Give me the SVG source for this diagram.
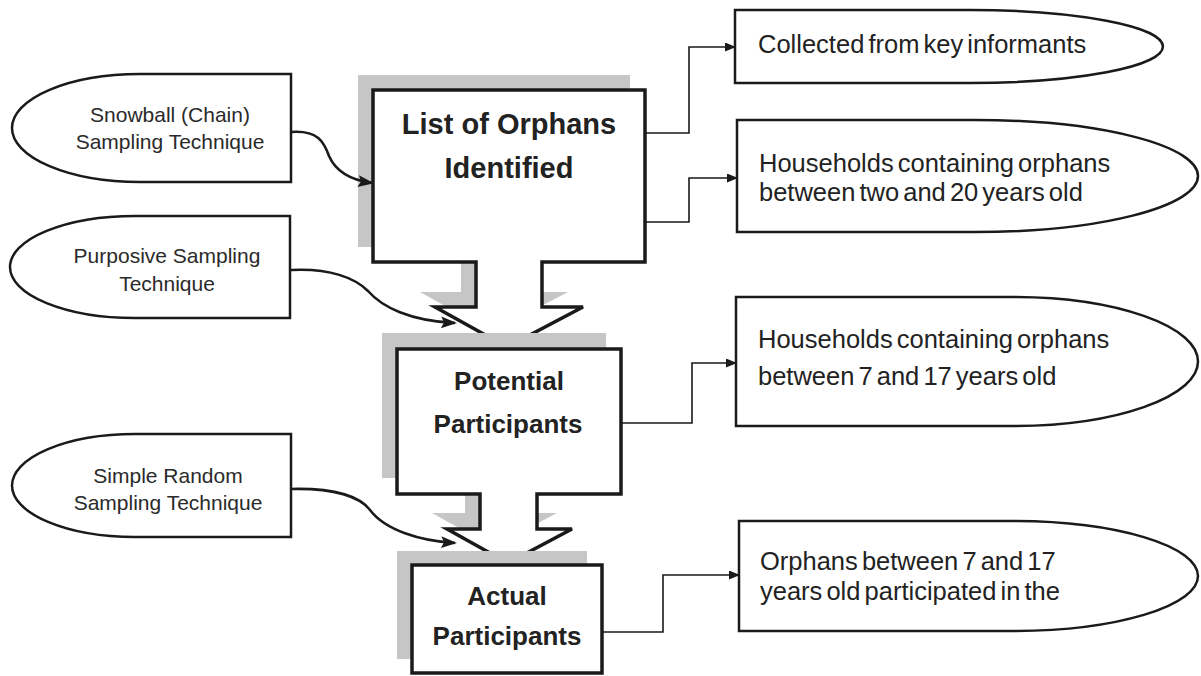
<svg xmlns="http://www.w3.org/2000/svg" width="1201" height="676" viewBox="0 0 1201 676">
<style>
.bg{fill:#ffffff}
.shape{fill:#ffffff;stroke:#1a1a1a;stroke-width:2.5;stroke-linejoin:miter}
.main{fill:#ffffff;stroke:#1a1a1a;stroke-width:3.5;stroke-linejoin:miter}
.shadow{fill:#c6c6c6;stroke:none}
.conn{fill:none;stroke:#1a1a1a;stroke-width:1.6}
.curve{fill:none;stroke:#1a1a1a;stroke-width:2.6}
.lbl{font-family:"Liberation Sans",Arial,sans-serif;font-size:21px;fill:#2a2a2a;text-anchor:middle}
.box{font-family:"Liberation Sans",Arial,sans-serif;font-size:29px;font-weight:bold;fill:#222;text-anchor:middle}
.box2{font-family:"Liberation Sans",Arial,sans-serif;font-size:26px;font-weight:bold;fill:#222;text-anchor:middle}
.rt{font-family:"Liberation Sans",Arial,sans-serif;font-size:25.5px;fill:#222;word-spacing:-3px}
</style>
<defs>
<marker id="ah" markerUnits="userSpaceOnUse" markerWidth="11" markerHeight="9" refX="10" refY="4.5" orient="auto">
<path d="M0,0 L11,4.5 L0,9 Z" fill="#1a1a1a"/>
</marker>
<marker id="ah2" markerUnits="userSpaceOnUse" markerWidth="16" markerHeight="12" refX="14" refY="6" orient="auto">
<path d="M0,0 L16,6 L0,12 L3,6 Z" fill="#1a1a1a"/>
</marker>
</defs>
<rect class="bg" x="0" y="0" width="1201" height="676"/>

<g id="snowball">
<path class="shape" d="M291,74 H140 A128,54 0 0 0 140,182 H291 Z"/>
<text class="lbl" x="170" y="122">Snowball (Chain)</text>
<text class="lbl" x="170" y="149">Sampling Technique</text>
</g>
<g id="purposive">
<path class="shape" d="M290,216 H135 A125,51 0 0 0 135,318 H290 Z"/>
<text class="lbl" x="167" y="263">Purposive Sampling</text>
<text class="lbl" x="167" y="291">Technique</text>
</g>
<g id="simple-random">
<path class="shape" d="M291,434 H135 A123,51.5 0 0 0 135,537 H291 Z"/>
<text class="lbl" x="168" y="483">Simple Random</text>
<text class="lbl" x="168" y="510">Sampling Technique</text>
</g>

<g id="list-of-orphans">
<path class="shadow" transform="translate(-15,-15)" d="M373,90 H645 V262 H542 V307 H583 L507,347 L435,307 H476 V262 H373 Z"/>
<path class="main" d="M373,90 H645 V262 H542 V307 H583 L507,347 L435,307 H476 V262 H373 Z"/>
<text class="box" x="509" y="134">List of Orphans</text>
<text class="box" x="509" y="178">Identified</text>
</g>
<g id="potential-participants">
<path class="shadow" transform="translate(-15,-16)" d="M397,349 H621 V494 H537 V529 H572 L508,563 L447,529 H480 V494 H397 Z"/>
<path class="main" d="M397,349 H621 V494 H537 V529 H572 L508,563 L447,529 H480 V494 H397 Z"/>
<text class="box2" x="509" y="390">Potential</text>
<text class="box2" x="508" y="433">Participants</text>
</g>
<g id="actual-participants">
<rect class="shadow" x="397" y="551" width="190" height="108"/>
<rect class="main" x="412" y="565" width="190" height="108"/>
<text class="box2" x="507" y="605">Actual</text>
<text class="box2" x="507" y="645">Participants</text>
</g>

<g id="collected">
<path class="shape" d="M735,10 H970 A193,36.5 0 0 1 970,83 H735 Z"/>
<text class="rt" x="758" y="53">Collected from key informants</text>
</g>
<g id="households-2-20">
<path class="shape" d="M737,120 H975 A223,56 0 0 1 975,232 H737 Z"/>
<text class="rt" x="759" y="172">Households containing orphans</text>
<text class="rt" x="759" y="201">between two and 20 years old</text>
</g>
<g id="households-7-17">
<path class="shape" d="M736,297 H1013 A185,64.5 0 0 1 1013,426 H736 Z"/>
<text class="rt" x="758" y="348">Households containing orphans</text>
<text class="rt" x="758" y="385">between 7 and 17  years old</text>
</g>
<g id="orphans-participated">
<path class="shape" d="M739,521 H1013 A185,55 0 0 1 1013,631 H739 Z"/>
<text class="rt" x="760" y="570">Orphans between 7 and 17</text>
<text class="rt" x="760" y="600">years old participated in the</text>
</g>

<g id="connectors">
<path class="curve" marker-end="url(#ah2)" d="M291,132 C318,130 324,142 329,156 C336,172 350,180 372,183"/>
<path class="curve" marker-end="url(#ah2)" d="M291,270 C330,268 355,278 368,291 C382,307 410,321 455,323"/>
<path class="curve" marker-end="url(#ah2)" d="M291,489 C335,488 360,497 370,510 C385,530 420,541 455,543"/>
<path class="conn" marker-end="url(#ah)" d="M645,133 H689 V47 H735"/>
<path class="conn" marker-end="url(#ah)" d="M645,222 H689 V178 H737"/>
<path class="conn" marker-end="url(#ah)" d="M622,423 H692 V363 H736"/>
<path class="conn" marker-end="url(#ah)" d="M602,632 H663 V575 H739"/>
</g>
</svg>
